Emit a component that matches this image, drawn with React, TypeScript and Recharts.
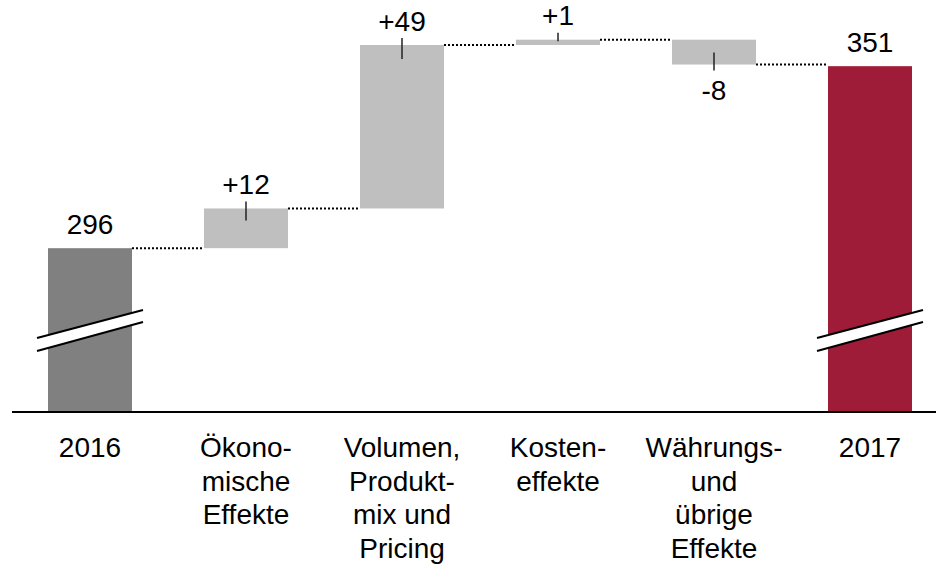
import { Bar, BarChart, XAxis, YAxis } from "recharts";

// waterfall: 2016 -> drivers -> 2017 (axis is broken, starts near 246.5)
const categories = [
    "2016",
    "Ökono-\nmische\nEffekte",
    "Volumen,\nProdukt-\nmix und\nPricing",
    "Kosten-\neffekte",
    "Währungs-\nund\nübrige\nEffekte",
    "2017",
];
const startValue = 296;
const deltas = [12, 49.4, 1.6, -7.5];
const endValue = 351;
const valueLabels = ["296", "+12", "+49", "+1", "-8", "351"];

const AXIS_FLOOR = 246.5;
const AXIS_TOP = 371;
const CHART_W = 948;
const CHART_H = 570;
const MARGIN_LEFT = 12;
const BAR_W = 84;
const FONT = "'Liberation Sans', Arial, sans-serif";

type Row = { name: string; range: [number, number]; kind: string; label: string; up: boolean };

const rows: Row[] = [];
rows.push({ name: categories[0], range: [AXIS_FLOOR, startValue], kind: "start", label: valueLabels[0], up: true });
let running = startValue;
deltas.forEach((d, i) => {
    const next = running + d;
    rows.push({
        name: categories[i + 1],
        range: [Math.min(running, next), Math.max(running, next)],
        kind: "delta",
        label: valueLabels[i + 1],
        up: d >= 0,
    });
    running = next;
});
rows.push({ name: categories[5], range: [AXIS_FLOOR, endValue], kind: "end", label: valueLabels[5], up: true });

const fills: Record<string, string> = { start: "#808080", delta: "#BFBFBF", end: "#9E1C37" };
const band = (CHART_W - MARGIN_LEFT) / categories.length;

function WaterfallShape(props: any) {
    const { x, y, width, height, payload, index } = props;
    const bottom = y + height;
    const isTotal = payload.kind !== "delta";
    const endY = payload.up ? y : bottom;
    const gap = band - width;
    return (
        <g>
            <rect x={x} y={y} width={width} height={height} fill={fills[payload.kind]} />
            {payload.kind === "delta" && payload.up && (
                <line x1={x + width / 2} x2={x + width / 2} y1={y - 7} y2={y + Math.min(14, height * 0.3)} stroke="#222" strokeWidth={1.5} />
            )}
            {payload.kind === "delta" && !payload.up && (
                <line x1={x + width / 2} x2={x + width / 2} y1={bottom - 12} y2={bottom + 6} stroke="#222" strokeWidth={1.5} />
            )}
            {isTotal && (
                <g>
                    <polygon
                        points={`${x - 11},${bottom - 74} ${x + width + 11},${bottom - 102} ${x + width + 11},${bottom - 90} ${x - 11},${bottom - 61}`}
                        fill="#fff"
                    />
                    <line x1={x - 11} y1={bottom - 74} x2={x + width + 11} y2={bottom - 102} stroke="#000" strokeWidth={2} />
                    <line x1={x - 11} y1={bottom - 61} x2={x + width + 11} y2={bottom - 90} stroke="#000" strokeWidth={2} />
                </g>
            )}
            {index < rows.length - 1 && (
                <line x1={x + width} x2={x + width + gap} y1={endY} y2={endY} stroke="#000" strokeWidth={2} strokeDasharray="2 2" />
            )}
            <text
                x={x + width / 2}
                y={payload.up ? y - 14.5 : bottom + 35.5}
                textAnchor="middle"
                fontFamily={FONT}
                fontSize={28}
                fill="#000"
            >
                {payload.label}
            </text>
        </g>
    );
}

function CategoryTick({ x, y, payload }: any) {
    const lines = String(payload.value).split("\n");
    return (
        <text x={x} y={y} textAnchor="middle" fontFamily={FONT} fontSize={28} fill="#000">
            {lines.map((ln, i) => (
                <tspan key={i} x={x} dy={i === 0 ? 45 : 33.6}>
                    {ln}
                </tspan>
            ))}
        </text>
    );
}

export default function App() {
    return (
        <div style={{ position: "absolute", left: 0, top: 0, width: 936, height: 570, overflow: "hidden", background: "#fff" }}>
            <BarChart width={CHART_W} height={CHART_H} data={rows} margin={{ top: 0, right: 0, left: MARGIN_LEFT, bottom: 0 }}>
                <XAxis
                    dataKey="name"
                    interval={0}
                    height={158}
                    tickSize={0}
                    tickMargin={0}
                    tickLine={false}
                    axisLine={{ stroke: "#000", strokeWidth: 2 }}
                    tick={<CategoryTick />}
                />
                <YAxis hide domain={[AXIS_FLOOR, AXIS_TOP]} allowDataOverflow />
                <Bar dataKey="range" barSize={BAR_W} shape={<WaterfallShape />} isAnimationActive={false} />
            </BarChart>
        </div>
    );
}
